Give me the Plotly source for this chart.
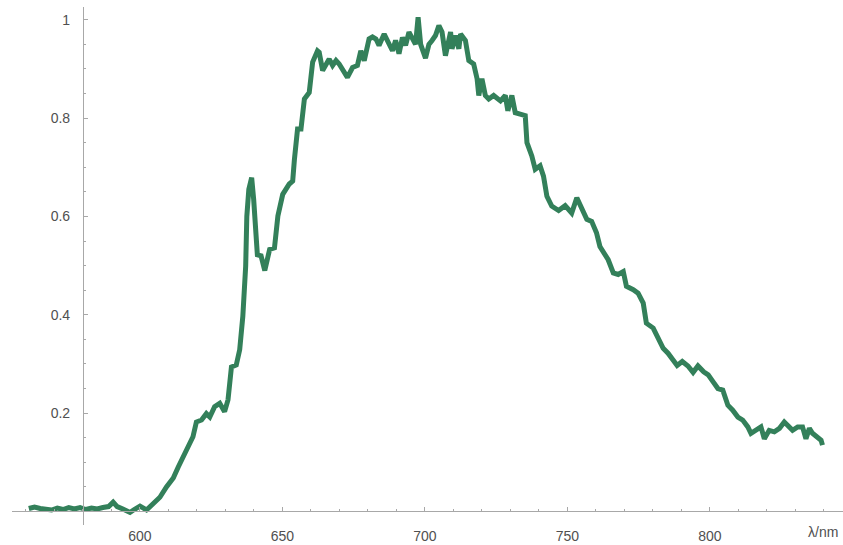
import plotly.graph_objects as go

wavelength = [561, 563, 565, 567, 569, 571, 573, 575, 577, 579, 581, 583, 585, 587, 589, 590.6, 592, 594, 596.5, 598,
              600, 602.3, 604.7, 607, 609.3, 611.7, 613.4, 615.1, 616.9, 618.6, 619.8, 621.6, 623.3, 624.5, 626.2, 628,
              629.7, 630.9, 632.1, 633.8, 635, 636.1, 637.1, 637.5, 638.2, 639.2, 639.9, 640.6, 641.2, 642.5, 643.8,
              645.5, 647.2, 648.4, 650.1, 652.4, 653.6, 654.2, 655.3, 656.5, 657.7, 659.4, 660.6, 662.3, 662.9, 664.1,
              665.3, 666.4, 667.6, 668.8, 669.9, 671.7, 672.8, 674.6, 676.3, 677.5, 678.7, 680.4, 681.6, 682.8, 683.9,
              685.7, 686.8, 688.6, 689.7, 690.9, 692.1, 693.2, 694.4, 695.6, 696.7, 697.6, 698.5, 700.2, 701.4, 702.5,
              703.7, 704.9, 706, 707.2, 709, 709.5, 710.7, 711.9, 712.5, 714.2, 715.4, 717.1, 718.3, 718.9, 720, 721.2,
              722.4, 724.1, 726.5, 728.2, 729.1, 730.5, 731.7, 733.4, 735.2, 735.8, 737.5, 738.7, 740.4, 741.6, 742.8,
              744.5, 746.9, 749.2, 751.5, 753.3, 755, 756.8, 758.5, 760.2, 761.4, 762.6, 764.3, 766.1, 767.8, 769.6,
              770.7, 773.1, 774.8, 776.6, 777.7, 780.1, 781.8, 783.6, 785.3, 787.1, 788.5, 790.3, 792.3, 794.1, 795.8,
              797.8, 799.4, 801.2, 802.8, 804.5, 806.3, 808, 809.8, 811.5, 813.3, 814.4, 816.2, 817.9, 819.1, 820.8,
              822.6, 824.4, 826.1, 827.9, 829, 830.8, 832.5, 833.7, 834.9, 836, 837.8, 839, 839.5]

intensity = [0.006, 0.009, 0.006, 0.004, 0.003, 0.007, 0.004, 0.008, 0.005, 0.008, 0.004, 0.007, 0.005, 0.008, 0.01,
             0.019, 0.01, 0.005, -0.002, 0.004,
             0.011, 0.003, 0.016, 0.029, 0.05, 0.068, 0.09, 0.111, 0.135, 0.152, 0.182, 0.186, 0.199, 0.192, 0.213,
             0.22, 0.203, 0.227, 0.294, 0.298, 0.329, 0.397, 0.499, 0.60, 0.655, 0.679, 0.635, 0.567, 0.522, 0.52,
             0.49, 0.533, 0.536, 0.601, 0.645, 0.666, 0.672, 0.716, 0.778, 0.778, 0.839, 0.852, 0.914, 0.937, 0.934,
             0.897, 0.907, 0.92, 0.907, 0.917, 0.91, 0.893, 0.883, 0.903, 0.907, 0.937, 0.917, 0.961, 0.965, 0.961,
             0.948, 0.971, 0.958, 0.937, 0.958, 0.931, 0.964, 0.948, 0.975, 0.964, 0.95, 1.005, 0.95, 0.922, 0.95,
             0.958, 0.968, 0.988, 0.975, 0.927, 0.975, 0.941, 0.968, 0.941, 0.971, 0.958, 0.917, 0.91, 0.88, 0.846,
             0.88, 0.846, 0.839, 0.846, 0.835, 0.846, 0.815, 0.846, 0.811, 0.808, 0.805, 0.75, 0.723, 0.696, 0.703,
             0.682, 0.641, 0.621, 0.612, 0.622, 0.607, 0.638, 0.618, 0.594, 0.59, 0.567, 0.539, 0.526, 0.512, 0.485,
             0.482, 0.488, 0.458, 0.451, 0.444, 0.424, 0.383, 0.373, 0.352, 0.332, 0.322, 0.308, 0.297, 0.305, 0.296,
             0.283, 0.296, 0.284, 0.278, 0.263, 0.25, 0.247, 0.216, 0.206, 0.192, 0.186, 0.172, 0.159, 0.165, 0.172,
             0.148, 0.165, 0.162, 0.169, 0.182, 0.172, 0.165, 0.172, 0.172, 0.148, 0.169, 0.159, 0.152, 0.145, 0.135]

x_ticks = [600, 650, 700, 750, 800]
x_tick_labels = ["600", "650", "700", "750", "800"]
y_ticks = [0.2, 0.4, 0.6, 0.8, 1.0]
y_tick_labels = ["0.2", "0.4", "0.6", "0.8", "1"]
x_label = "λ/nm"

X_RANGE = [555.1, 846.7]
Y_RANGE = [-0.0275, 1.026]
AXIS_CROSS_X = 580
AXIS_CROSS_Y = 0

font = dict(family="Liberation Sans, Arial, sans-serif", size=14, color="#505050")
axis_color = "#a8a8a8"

fig = go.Figure()
fig.add_trace(go.Scatter(
    x=wavelength, y=intensity, mode="lines",
    line=dict(color="#33805a", width=5),
    showlegend=False, hoverinfo="skip",
))

ypos = (AXIS_CROSS_X - X_RANGE[0]) / (X_RANGE[1] - X_RANGE[0])
xpos = (AXIS_CROSS_Y - Y_RANGE[0]) / (Y_RANGE[1] - Y_RANGE[0])

fig.update_layout(
    width=843, height=545,
    margin=dict(l=12, r=0, t=7, b=20),
    paper_bgcolor="white", plot_bgcolor="white",
    font=font,
    xaxis=dict(
        range=X_RANGE, anchor="free", position=xpos,
        showgrid=False, zeroline=False, showline=True, linecolor=axis_color, linewidth=1,
        tickmode="array", tickvals=x_ticks, ticktext=x_tick_labels,
        ticks="inside", ticklen=4, tickcolor=axis_color, tickwidth=1,
        minor=dict(tickmode="linear", tick0=0, dtick=10, ticks="inside", ticklen=2,
                   tickcolor=axis_color, showgrid=False),
        tickfont=font, ticklabelstandoff=12, automargin=False,
    ),
    yaxis=dict(
        range=Y_RANGE, anchor="free", position=ypos,
        showgrid=False, zeroline=False, showline=True, linecolor=axis_color, linewidth=1,
        tickmode="array", tickvals=y_ticks, ticktext=y_tick_labels,
        ticks="inside", ticklen=4, tickcolor=axis_color, tickwidth=1,
        minor=dict(tickmode="linear", tick0=0, dtick=0.05, ticks="inside", ticklen=2,
                   tickcolor=axis_color, showgrid=False),
        tickfont=font, ticklabelstandoff=10, automargin=False,
    ),
    annotations=[dict(
        x=839.6, y=AXIS_CROSS_Y, xref="x", yref="y", text=x_label, showarrow=False,
        font=font, xanchor="center", yanchor="middle", yshift=-21,
    )],
)

fig.write_html("out.html")
